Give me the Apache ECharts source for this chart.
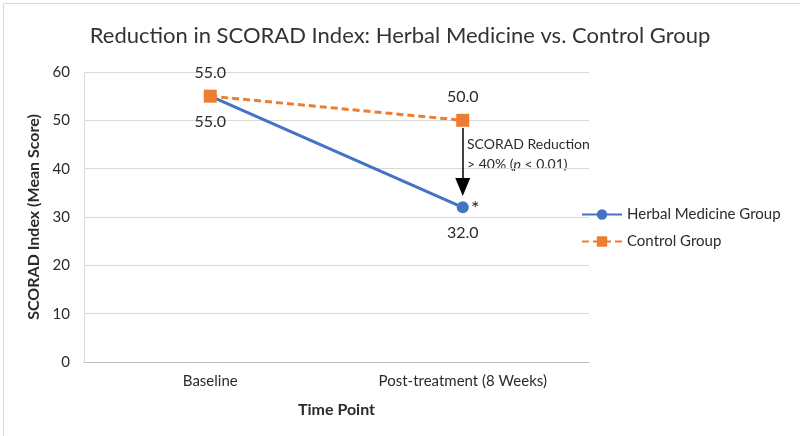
<!DOCTYPE html>
<html>
<head>
<meta charset="utf-8">
<script src="https://cdn.jsdelivr.net/npm/echarts@6/dist/echarts.min.js"></script>
<style>
  html, body { margin: 0; padding: 0; background: #fff; }
  #main { width: 800px; height: 436px; }
</style>
</head>
<body>
<div id="main"></div>
<script>
// data
const timePoints = ["Baseline", "Post-treatment (8 Weeks)"];
const herbalScores = [55.0, 32.0];
const controlScores = [55.0, 50.0];
const arrowRange = [48.4, 36.2]; // annotation arrow, in score units

const FONT = "Lato, 'Open Sans', sans-serif";
const TEXT = "#2b2b2b";

const myChart = echarts.init(document.getElementById("main"));

const option = {
  backgroundColor: "#fff",
  textStyle: { fontFamily: FONT },
  title: {
    text: "Reduction in SCORAD Index: Herbal Medicine vs. Control Group",
    left: "center",
    top: 20,
    textStyle: { fontSize: 22, fontWeight: "normal", color: "#333", fontFamily: FONT },
  },
  legend: {
    orient: "vertical",
    left: 576,
    top: 202,
    itemGap: 12,
    itemWidth: 40,
    itemHeight: 13,
    textStyle: { fontSize: 15, color: TEXT, fontFamily: FONT },
    data: ["Herbal Medicine Group", "Control Group"],
  },
  grid: { left: 84, right: 211, top: 72, bottom: 74 },
  xAxis: {
    type: "category",
    data: timePoints,
    boundaryGap: true,
    name: "Time Point",
    nameLocation: "middle",
    nameGap: 40,
    nameTextStyle: { fontSize: 16, fontWeight: "bold", color: TEXT },
    axisLine: { lineStyle: { color: "#bfbfbf", width: 1 } },
    axisTick: { show: false },
    axisLabel: { fontSize: 15, color: TEXT, margin: 12 },
  },
  yAxis: {
    type: "value",
    min: 0,
    max: 60,
    interval: 10,
    name: "SCORAD Index (Mean Score)",
    nameLocation: "middle",
    nameGap: 42,
    nameTextStyle: { fontSize: 16, fontWeight: "bold", color: TEXT },
    axisLine: { show: true, lineStyle: { color: "#d9d9d9" } },
    axisTick: { show: false },
    axisLabel: { fontSize: 15, color: TEXT, margin: 14 },
    splitLine: { lineStyle: { color: "#d9d9d9" } },
  },
  series: [
    {
      name: "Herbal Medicine Group",
      type: "line",
      data: herbalScores,
      symbol: "circle",
      symbolSize: 12,
      z: 3,
      lineStyle: { color: "#4472C4", width: 3 },
      itemStyle: { color: "#4472C4" },
      label: {
        show: true,
        position: "bottom",
        distance: 12,
        fontSize: 16,
        color: TEXT,
        formatter: (p) => p.value.toFixed(1),
      },
    },
    {
      name: "Control Group",
      type: "line",
      data: controlScores,
      symbol: "rect",
      symbolSize: 13,
      z: 4,
      lineStyle: { color: "#ED7D31", width: 3, type: [7, 4] },
      itemStyle: { color: "#ED7D31" },
      label: {
        show: true,
        position: "top",
        distance: 9,
        fontSize: 16,
        color: TEXT,
        formatter: (p) => p.value.toFixed(1),
      },
      markLine: {
        silent: true,
        symbol: ["none", "triangle"],
        symbolSize: [15, 18],
        label: { show: false },
        lineStyle: { color: "#000", width: 1.5, type: "solid" },
        data: [
          [
            { coord: [1, arrowRange[0]] },
            { coord: [1, arrowRange[1]] },
          ],
        ],
      },
    },
  ],
  graphic: [
    {
      type: "rect",
      left: 1,
      top: 1,
      shape: { width: 797, height: 433 },
      style: { fill: "none", stroke: "#d9d9d9", lineWidth: 1 },
      silent: true,
    },
    {
      type: "text",
      left: 467,
      top: 134,
      style: {
        text: "SCORAD Reduction\n> 40% ({i|p} < 0.01)",
        fontSize: 14,
        lineHeight: 20,
        fill: TEXT,
        fontFamily: FONT,
        rich: { i: { fontStyle: "italic", fontSize: 14, fill: TEXT, fontFamily: FONT } },
      },
    },
    {
      type: "text",
      left: 471,
      top: 199,
      style: { text: "*", fontSize: 20, fill: "#222", fontFamily: FONT },
    },
  ],
};

myChart.setOption(option);
</script>
</body>
</html>
